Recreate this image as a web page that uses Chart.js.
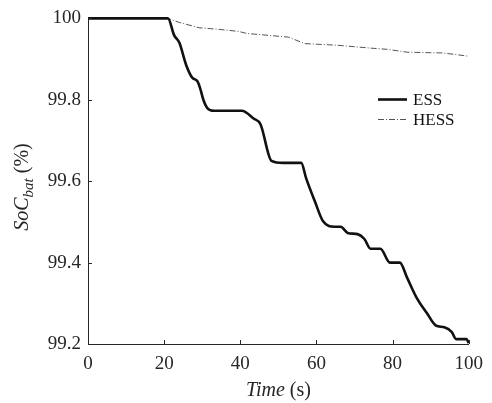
<!DOCTYPE html>
<html>
<head>
<meta charset="utf-8">
<script src="https://cdn.jsdelivr.net/npm/chart.js@4"></script>
<style>
  html, body { margin: 0; padding: 0; background: #fff; }
  #wrap { width: 492px; height: 403px; }
</style>
</head>
<body>
<div id="wrap"><canvas id="soc" width="492" height="403"></canvas></div>
<script>
// Battery state of charge over the run, single ESS vs hybrid HESS
const timeESS = [0, 21, 22.6, 24, 25.8, 27.4, 28.7, 29.5, 30.3, 31.3, 33.1, 40.4, 43.5, 45.3, 48.2, 51.3, 56, 57.3, 59.6, 61.7, 64.8, 66.4, 68.2, 70.8, 72.6, 74.2, 76.8, 79.3, 81.9, 83.8, 86.4, 89, 91.3, 93.6, 95.5, 96.7, 99.4, 100];
const socESS  = [100, 100, 99.959, 99.94, 99.885, 99.854, 99.846, 99.827, 99.80, 99.78, 99.773, 99.773, 99.754, 99.74, 99.65, 99.645, 99.645, 99.607, 99.55, 99.502, 99.488, 99.488, 99.473, 99.47, 99.458, 99.434, 99.434, 99.40, 99.40, 99.363, 99.312, 99.276, 99.246, 99.241, 99.23, 99.212, 99.212, 99.202];

const timeHESS = [0, 21, 24, 29.2, 34.4, 39.6, 41.7, 52.6, 57, 65.6, 74.2, 78.6, 83.8, 93.4, 100];
const socHESS  = [100, 100, 99.99, 99.977, 99.973, 99.968, 99.963, 99.954, 99.938, 99.934, 99.927, 99.924, 99.917, 99.915, 99.907];

const xTicks = [0, 20, 40, 60, 80, 100];
const yTicks = [99.2, 99.4, 99.6, 99.8, 100];
const seriesNames = ["ESS", "HESS"];

const SERIF = "'Liberation Serif', 'Times New Roman', serif";
const INK = "#262626";

const pts = (xs, ys) => xs.map((x, i) => ({ x, y: ys[i] }));

// inward tick marks, axis titles and the legend box
const decor = {
  id: "decor",
  afterDraw(chart) {
    const { ctx, chartArea: a, scales: { x, y } } = chart;
    ctx.save();
    ctx.strokeStyle = INK;
    ctx.lineWidth = 1;
    ctx.beginPath();
    for (const t of xTicks) {
      const px = Math.round(x.getPixelForValue(t)) + 0.5;
      ctx.moveTo(px, a.bottom); ctx.lineTo(px, a.bottom - 4);
    }
    for (const t of yTicks) {
      const py = Math.round(y.getPixelForValue(t)) + 0.5;
      ctx.moveTo(a.left, py); ctx.lineTo(a.left + 4, py);
    }
    ctx.stroke();

    // x title: "Time (s)"
    ctx.fillStyle = INK;
    ctx.textBaseline = "alphabetic";
    ctx.textAlign = "left";
    const fI = "italic 20px " + SERIF, fN = "20px " + SERIF;
    ctx.font = fI; const w1 = ctx.measureText("Time").width;
    ctx.font = fN; const w2 = ctx.measureText(" (s)").width;
    let sx = (a.left + a.right) / 2 - (w1 + w2) / 2;
    ctx.font = fI; ctx.fillText("Time", sx, 396);
    ctx.font = fN; ctx.fillText(" (s)", sx + w1, 396);

    // y title: "SoC_bat (%)", rotated
    ctx.save();
    ctx.translate(28, 187);
    ctx.rotate(-Math.PI / 2);
    const fS = "italic 15px " + SERIF;
    ctx.font = fI; const a1 = ctx.measureText("SoC").width;
    ctx.font = fS; const a2 = ctx.measureText("bat").width;
    ctx.font = fN; const a3 = ctx.measureText(" (%)").width;
    let cx = -(a1 + a2 + a3) / 2;
    ctx.font = fI; ctx.fillText("SoC", cx, 0); cx += a1;
    ctx.font = fS; ctx.fillText("bat", cx, 5); cx += a2;
    ctx.font = fN; ctx.fillText(" (%)", cx, 0);
    ctx.restore();

    // legend
    const rows = [99, 119];
    chart.data.datasets.forEach((ds, i) => {
      const ly = rows[i] + 0.5;
      ctx.save();
      ctx.strokeStyle = ds.borderColor;
      ctx.lineWidth = ds.borderWidth;
      ctx.setLineDash(ds.borderDash || []);
      ctx.beginPath(); ctx.moveTo(378, ly); ctx.lineTo(407, ly); ctx.stroke();
      ctx.restore();
      ctx.font = "17px " + SERIF;
      ctx.fillStyle = "#111";
      ctx.fillText(ds.label, 413, rows[i] + 6);
    });
    ctx.restore();
  }
};

new Chart(document.getElementById("soc"), {
  type: "line",
  data: {
    datasets: [
      { label: seriesNames[0], data: pts(timeESS, socESS), borderColor: "#111", borderWidth: 2.6, pointRadius: 0, cubicInterpolationMode: "monotone", clip: 4 },
      { label: seriesNames[1], data: pts(timeHESS, socHESS), borderColor: "#555", borderWidth: 1, borderDash: [6, 2, 1, 2], pointRadius: 0, tension: 0, clip: 4 }
    ]
  },
  options: {
    responsive: false,
    animation: false,
    layout: { padding: { top: 16, right: 19, left: 0, bottom: 0 } },
    plugins: { legend: { display: false }, tooltip: { enabled: false } },
    scales: {
      x: {
        type: "linear", min: 0, max: 100,
        afterBuildTicks: s => { s.ticks = xTicks.map(v => ({ value: v })); },
        afterFit: s => { s.height = 59; },
        border: { display: true, color: INK, width: 1 },
        grid: { drawOnChartArea: false, drawTicks: false },
        ticks: { color: INK, padding: 9, font: { family: SERIF, size: 19 }, maxRotation: 0 }
      },
      y: {
        type: "linear", min: 99.2, max: 100,
        afterBuildTicks: s => { s.ticks = yTicks.map(v => ({ value: v })); },
        afterFit: s => { s.width = 88; },
        border: { display: true, color: INK, width: 1 },
        grid: { drawOnChartArea: false, drawTicks: false },
        ticks: { color: INK, padding: 7, font: { family: SERIF, size: 19 },
                 callback: v => v === 100 ? "100" : v.toFixed(1) }
      }
    }
  },
  plugins: [decor]
});
</script>
</body>
</html>
